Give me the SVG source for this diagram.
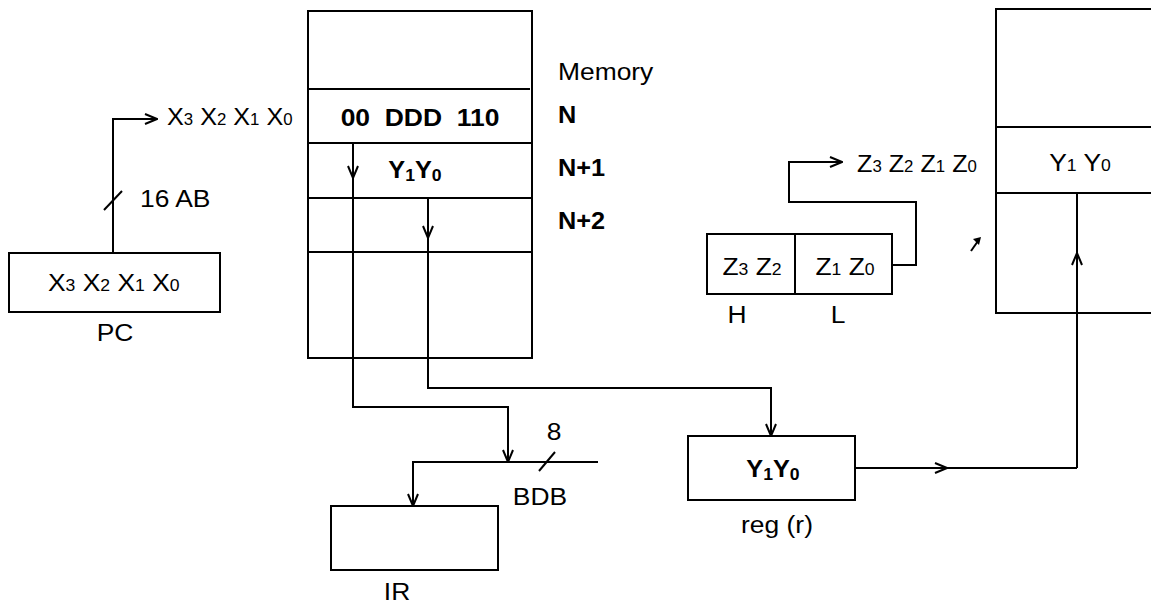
<svg xmlns="http://www.w3.org/2000/svg" width="1151" height="605" viewBox="0 0 1151 605">
<style>
  .box { fill: none; stroke: #000; stroke-width: 2; }
  .ln { fill: none; stroke: #000; stroke-width: 2; }
  .arr { fill: none; stroke: #000; stroke-width: 2; marker-end: url(#ah); }
  text { font-family: "Liberation Sans", Arial, sans-serif; fill: #000; }
  .t { font-size: 24px; }
  .b { font-size: 23px; font-weight: bold; }
  .s { font-size: 16px; }
  .sb { font-size: 16px; font-weight: bold; }
  .m { text-anchor: middle; }
</style>
<defs>
  <marker id="ah" viewBox="0 0 14 12" refX="13" refY="6" markerWidth="14" markerHeight="12" markerUnits="userSpaceOnUse" orient="auto">
    <path d="M1,1 L13,6 L1,11" fill="none" stroke="#000" stroke-width="2"/>
  </marker>
</defs>
<rect width="1151" height="605" fill="#fff"/>

<g id="connectors">
  <path class="arr" d="M113,253 V119 H157"/>
  <path class="ln" d="M104,210 L122,191"/>
  <path class="arr" d="M353,143 V178"/>
  <path class="arr" d="M353,178 V407 H508 V462"/>
  <path class="arr" d="M428,198 V238"/>
  <path class="arr" d="M428,238 V388 H771 V436"/>
  <path class="arr" d="M598,462 H413 V506"/>
  <path class="ln" d="M539,471 L555,452"/>
  <path class="arr" d="M855,468 H947"/>
  <path class="ln" d="M947,468 H1077"/>
  <path class="arr" d="M1077,468 V253"/>
  <path class="ln" d="M1077,253 V193"/>
  <path class="arr" d="M892,265 H916 V202 H789 V162 H842"/>
  <path class="ln" d="M971,251 L978,241"/>
  <path d="M973,239 L981,237 L979,245 Z" fill="#000"/>
</g>

<g id="pc">
  <rect class="box" x="9" y="253" width="211" height="59"/>
  <text class="t" transform="translate(48,291) scale(1.1,1)"><tspan>X</tspan><tspan class="s">3</tspan><tspan>  X</tspan><tspan class="s">2</tspan><tspan> X</tspan><tspan class="s">1</tspan><tspan> X</tspan><tspan class="s">0</tspan></text>
  <text class="t m" transform="translate(115,341) scale(1.1,1)">PC</text>
</g>

<g id="addr-label">
  <text class="t" transform="translate(167,125) scale(1.05,1)"><tspan>X</tspan><tspan class="s">3</tspan><tspan> X</tspan><tspan class="s">2</tspan><tspan> X</tspan><tspan class="s">1</tspan><tspan> X</tspan><tspan class="s">0</tspan></text>
  <text class="t" transform="translate(140,207) scale(1.1,1)">16 AB</text>
</g>

<g id="memory">
  <rect class="box" x="308" y="11" width="224" height="347"/>
  <path class="ln" d="M308,89 H530 M308,143 H532 M308,198 H532 M308,252 H532"/>
  <text class="b m" transform="translate(420,126) scale(1.15,1)" xml:space="preserve">00  DDD  110</text>
  <text class="b m" transform="translate(415,178) scale(1.1,1)"><tspan>Y</tspan><tspan class="sb" dy="3">1</tspan><tspan dy="-3">Y</tspan><tspan class="sb" dy="3">0</tspan></text>
  <text class="t" transform="translate(558,80) scale(1.1,1)">Memory</text>
  <text class="b" transform="translate(558,123) scale(1.1,1)">N</text>
  <text class="b" transform="translate(558,176) scale(1.1,1)">N+1</text>
  <text class="b" transform="translate(558,229) scale(1.1,1)">N+2</text>
</g>

<g id="hl-pair">
  <rect class="box" x="707" y="234" width="185" height="60"/>
  <path class="ln" d="M795,234 V294"/>
  <text class="t m" transform="translate(752,275) scale(1.1,1)"><tspan>Z</tspan><tspan class="s">3</tspan><tspan> Z</tspan><tspan class="s">2</tspan></text>
  <text class="t m" transform="translate(845,275) scale(1.1,1)"><tspan>Z</tspan><tspan class="s">1</tspan><tspan> Z</tspan><tspan class="s">0</tspan></text>
  <text class="t m" transform="translate(737,323) scale(1.1,1)">H</text>
  <text class="t m" transform="translate(838,323) scale(1.1,1)">L</text>
</g>

<g id="hl-label">
  <text class="t" transform="translate(857,172) scale(1.05,1)"><tspan>Z</tspan><tspan class="s">3</tspan><tspan> Z</tspan><tspan class="s">2</tspan><tspan> Z</tspan><tspan class="s">1</tspan><tspan> Z</tspan><tspan class="s">0</tspan></text>
</g>

<g id="memory-right">
  <rect class="box" x="996" y="9" width="200" height="304"/>
  <path class="ln" d="M996,127 H1151 M996,193 H1151"/>
  <text class="t m" transform="translate(1080,171) scale(1.1,1)"><tspan>Y</tspan><tspan class="s">1</tspan><tspan> Y</tspan><tspan class="s">0</tspan></text>
</g>

<g id="bdb">
  <text class="t m" transform="translate(554,440) scale(1.1,1)">8</text>
  <text class="t m" transform="translate(540,505) scale(1.1,1)">BDB</text>
</g>

<g id="ir">
  <rect class="box" x="331" y="506" width="167" height="64"/>
  <text class="t m" transform="translate(397,600) scale(1.1,1)">IR</text>
</g>

<g id="reg">
  <rect class="box" x="688" y="436" width="167" height="64"/>
  <text class="b m" transform="translate(773,477) scale(1.1,1)"><tspan>Y</tspan><tspan class="sb" dy="3">1</tspan><tspan dy="-3">Y</tspan><tspan class="sb" dy="3">0</tspan></text>
  <text class="t m" transform="translate(777,533) scale(1.1,1)">reg (r)</text>
</g>
</svg>
